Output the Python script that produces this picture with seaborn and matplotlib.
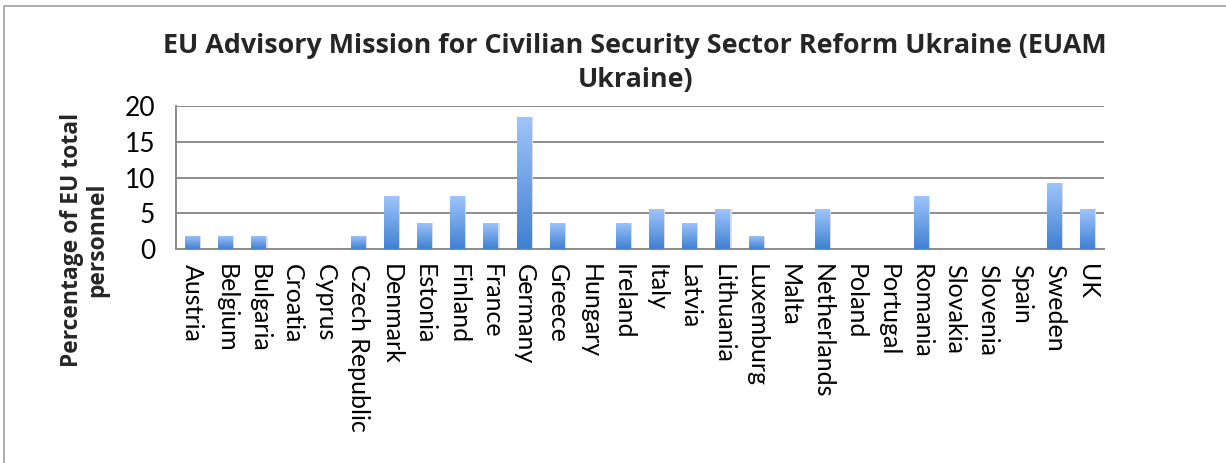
import numpy as np
import pandas as pd
import matplotlib
matplotlib.use("Agg")
import matplotlib.pyplot as plt
import seaborn as sns
from matplotlib.colors import LinearSegmentedColormap
from matplotlib.patches import Rectangle

# data: share of EU personnel per member state (%)
countries = ["Austria", "Belgium", "Bulgaria", "Croatia", "Cyprus", "Czech Republic",
             "Denmark", "Estonia", "Finland", "France", "Germany", "Greece", "Hungary",
             "Ireland", "Italy", "Latvia", "Lithuania", "Luxemburg", "Malta", "Netherlands",
             "Poland", "Portugal", "Romania", "Slovakia", "Slovenia", "Spain", "Sweden", "UK"]
percent = [1.85, 1.85, 1.85, 0, 0, 1.85,
           7.41, 3.70, 7.41, 3.70, 18.52, 3.70, 0,
           3.70, 5.56, 3.70, 5.56, 1.85, 0, 5.56,
           0, 0, 7.41, 0, 0, 0, 9.26, 5.56]

df = pd.DataFrame({"country": countries, "pct": percent})

sns.set_theme(style="white")
plt.rcParams["font.family"] = ["Lato", "DejaVu Sans"]
bold_font = ["Open Sans", "DejaVu Sans"]

fig = plt.figure(figsize=(12.26, 4.63), dpi=100)
ax = fig.add_axes([0.1436, 0.4622, 0.7569, 0.3088])

sns.barplot(data=df, x="country", y="pct", color="#7fb0ee", width=0.45, ax=ax)

# gradient fill like the spreadsheet bars
cmap = LinearSegmentedColormap.from_list("bar", ["#3f80d2", "#9fc5fb"])
grad = np.linspace(0, 1, 256).reshape(-1, 1)
for p in ax.patches:
    x0, y0 = p.get_x(), p.get_y()
    w, h = p.get_width(), p.get_height()
    if h <= 0:
        continue
    p.set_facecolor("none")
    p.set_edgecolor("none")
    im = ax.imshow(grad, cmap=cmap, origin="lower", aspect="auto",
                   extent=[x0, x0 + w, y0, y0 + h], zorder=3)
    im.set_clip_path(p)
    # soft shadow on the right
    ax.add_patch(Rectangle((x0 + w, y0), w * 0.08, h, color="#dcdcdc", zorder=2, lw=0))

ax.set_xlim(-0.5, len(countries) - 0.5)
ax.set_ylim(0, 20)
ax.set_yticks([0, 5, 10, 15, 20])
ax.yaxis.grid(True, color="#8c8c8c", linewidth=1.4)
ax.set_axisbelow(True)
for s in ["top", "right"]:
    ax.spines[s].set_visible(False)
ax.spines["left"].set_color("#8c8c8c")
ax.spines["left"].set_linewidth(1.4)
ax.spines["bottom"].set_color("#8c8c8c")
ax.spines["bottom"].set_linewidth(1.4)

ax.tick_params(axis="y", labelsize=19, length=0, pad=15, colors="black")
ax.tick_params(axis="x", labelsize=18, length=0, pad=11, colors="black")
ax.set_xticks(range(len(countries)))
ax.set_xticklabels(countries, rotation=-90, va="top", ha="center")
ax.set_xlabel("")
ax.set_ylabel("")

# y axis title, centred like the spreadsheet one
fig.text(0.069, 0.482, "Percentage of EU total\npersonnel", rotation=90, ha="center", va="center",
         fontsize=16.5, fontweight="bold", family=bold_font, linespacing=1.1)

fig.text(0.518, 0.865, "EU Advisory Mission for Civilian Security Sector Reform Ukraine (EUAM\nUkraine)",
         ha="center", va="center", fontsize=19.4, fontweight="bold", family=bold_font,
         linespacing=1.4)

# chart area border
fig.add_artist(Rectangle((0.0035, -0.05), 1.1, 1.037, transform=fig.transFigure,
                         fill=False, edgecolor="#a0a0a0", linewidth=1.2))

fig.savefig("out.png", dpi=100)
